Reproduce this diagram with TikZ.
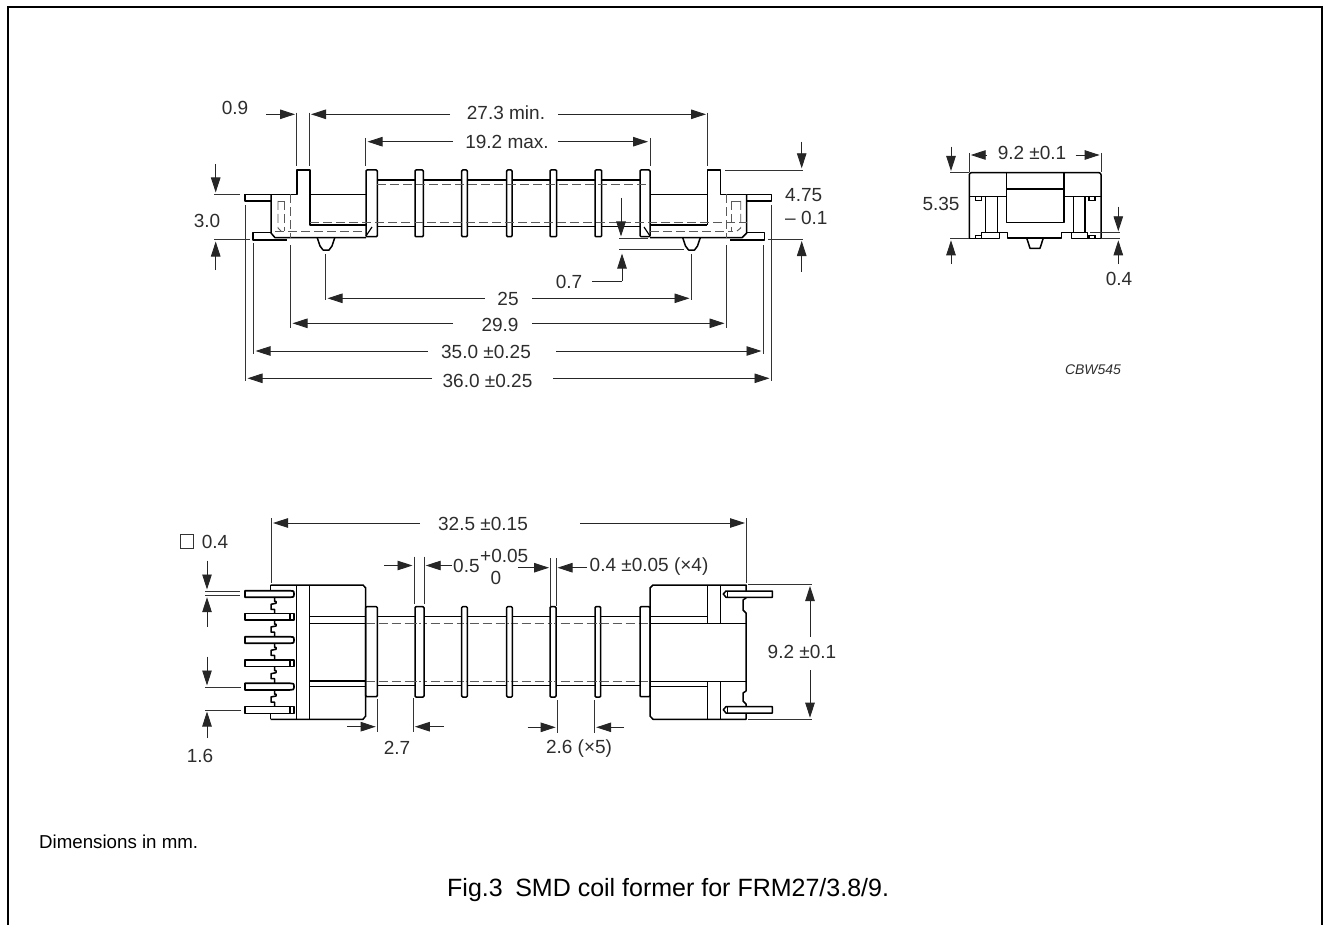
\documentclass[tikz,border=0pt]{standalone}
\usepackage{fontspec}
\setmainfont{Liberation Sans}
\usetikzlibrary{arrows.meta}
\definecolor{labelgray}{RGB}{45,45,45}
\definecolor{hiddengray}{RGB}{90,90,90}
\tikzset{
  outline/.style={line width=1.5pt,line join=round},
  thinline/.style={line width=1.2pt},
  extline/.style={line width=0.9pt,black!80},
  hidden/.style={line width=0.9pt,hiddengray,dash pattern=on 9pt off 4pt},
  dimarrow/.style={line width=0.9pt,black!85,-{Triangle[length=15pt,width=9.5pt]}},
  dimtail/.style={line width=0.9pt,black!85},
  dimlabel/.style={font=\fontsize{19}{22}\selectfont,text=labelgray,inner sep=0pt},
}
\begin{document}
\begin{tikzpicture}[x=1pt,y=-1pt]
    \useasboundingbox (0,0) rectangle (1329,925);
    % Frame, open at the bottom
    \draw[line width=2pt] (8.3,925) -- (8.3,7.5) -- (1321.5,7.5) -- (1321.5,925);

    % Side view: moulded body
    \draw[outline] (245,194.3) -- (297,194.3) -- (297,170) -- (310,170) -- (310,225) -- (366,225);
    \draw[outline] (310,194.3) -- (366,194.3);
    \draw[outline] (245,194.3) -- (245,201) -- (271,201);
    \draw[outline] (271,194.3) -- (271,233) -- (275,237.7) -- (366,237.7);
    \draw[outline] (271,232.7) -- (253,232.7) -- (253,240) -- (287,240);
    \draw[outline] (707.3,225) -- (707.3,170) -- (720.7,170) -- (720.7,194.3) -- (771.7,194.3) -- (771.7,201) -- (746.7,201);
    \draw[outline] (650,194.3) -- (707.3,194.3);
    \draw[outline] (650,225) -- (707.3,225);
    \draw[outline] (746.7,194.3) -- (746.7,233) -- (742,237.7) -- (650,237.7);
    \draw[outline] (746.7,232.7) -- (764.3,232.7) -- (764.3,240) -- (730,240);
    % Side view: feet
    \foreach \footx in {326,691.5} {
        \draw[outline] (\footx-8.7,238) -- (\footx-6,246) -- (\footx-3,250) -- (\footx+3,250) -- (\footx+6,246) -- (\footx+8.7,238);
    }
    % Side view: tube and flanges
    \draw[outline] (377.3,180) -- (640,180);
    \draw[outline] (377.3,226.7) -- (640,226.7);
    \draw[outline,rounded corners=1pt] (366,170) rectangle (377.3,236.7);
    \draw[outline,rounded corners=1pt] (640,170) rectangle (650,236.7);
    \draw[thinline] (366,236) -- (372,227);
    \draw[thinline] (644,227) -- (650,236);
    \foreach \flangeL/\flangeR in {415/423.3,461.7/467.3,506.7/512,550/556.7,595/601.7} {
        \draw[outline,fill=white,rounded corners=1pt] (\flangeL,170) rectangle (\flangeR,236.7);
    }
    % Side view: hidden lines
    \draw[hidden] (377.3,184.7) -- (650,184.7);
    \draw[hidden] (310,222) -- (746.7,222);
    \draw[hidden] (275,231) -- (366,231);
    \draw[hidden] (650,231) -- (733,231);
    \draw[hidden] (278,201) -- (278,228) -- (281,231);
    \draw[hidden] (284,201) -- (284,231);
    \draw[hidden] (278,201) -- (284,201);
    \draw[hidden] (290.3,194.3) -- (290.3,238);
    \draw[hidden] (731.7,201) -- (731.7,231);
    \draw[hidden] (740.7,201) -- (740.7,228) -- (737,231);
    \draw[hidden] (731.7,201) -- (740.7,201);
    \draw[hidden] (726.7,194.3) -- (726.7,238);

    % Side view: widths above
    \draw[extline] (296.7,112.7) -- (296.7,166);
    \draw[extline] (309.3,112.7) -- (309.3,166);
    \draw[extline] (365.7,138) -- (365.7,166);
    \draw[extline] (650,138) -- (650,166);
    \draw[extline] (707.7,112.7) -- (707.7,166);
    \node[dimlabel] (wallwidth) at (235,108) {0.9};
    \draw[dimarrow] (266,114.3) -- (295,114.3);
    \draw[dimarrow] (450,114.3) -- (311,114.3);
    \node[dimlabel] (innerwidth) at (506,113) {27.3 min.};
    \draw[dimarrow] (558,114.3) -- (706,114.3);
    \draw[dimarrow] (453,141.7) -- (367.5,141.7);
    \node[dimlabel] (tubewidth) at (507,142) {19.2 max.};
    \draw[dimarrow] (558,141.7) -- (648,141.7);

    % Side view: heights
    \draw[extline] (214,194.3) -- (240,194.3);
    \draw[extline] (214,239.7) -- (250,239.7);
    \draw[dimarrow] (215.7,164) -- (215.7,192.5);
    \draw[dimarrow] (215.7,270) -- (215.7,241.5);
    \node[dimlabel] (pinheight) at (207,221) {3.0};
    \draw[extline] (725,170) -- (803,170);
    \draw[extline] (768,239.3) -- (803,239.3);
    \draw[dimarrow] (801.7,141.7) -- (801.7,168.3);
    \draw[dimarrow] (801.7,271.7) -- (801.7,241);
    \node[dimlabel,anchor=west] (totalheight) at (785,195) {4.75};
    \node[dimlabel,anchor=west] (totaltol) at (785,218) {– 0.1};
    \draw[extline] (619,238) -- (648,238);
    \draw[extline] (619,249) -- (684,249);
    \draw[dimarrow] (621,198) -- (621,236.5);
    \node[dimlabel] (footheight) at (569,281.5) {0.7};
    \draw[dimtail] (592,281) -- (622,281);
    \draw[dimarrow] (622,281) -- (622,253.5);

    % Side view: lengths below
    \draw[extline] (245.3,205) -- (245.3,381);
    \draw[extline] (253.3,243) -- (253.3,354);
    \draw[extline] (290.3,245) -- (290.3,328);
    \draw[extline] (325.3,254) -- (325.3,300);
    \draw[extline] (691.7,254) -- (691.7,300);
    \draw[extline] (726.7,245) -- (726.7,328);
    \draw[extline] (763.7,245) -- (763.7,354);
    \draw[extline] (771.7,205) -- (771.7,381);
    \node[dimlabel] (footpitch) at (508,299) {25};
    \draw[dimarrow] (485,298.3) -- (327.5,298.3);
    \draw[dimarrow] (532,298.3) -- (689.5,298.3);
    \node[dimlabel] (legpitch) at (500,324.5) {29.9};
    \draw[dimarrow] (453,323.3) -- (292.5,323.3);
    \draw[dimarrow] (532,323.3) -- (724.5,323.3);
    \node[dimlabel] (padlength) at (486,351.5) {35.0 ±0.25};
    \draw[dimarrow] (427.7,351) -- (255.5,351);
    \draw[dimarrow] (556,351) -- (761.5,351);
    \node[dimlabel] (pinlength) at (487.5,381) {36.0 ±0.25};
    \draw[dimarrow] (432,378.3) -- (247.5,378.3);
    \draw[dimarrow] (553,378.3) -- (769.5,378.3);

    % End view
    \draw[outline,rounded corners=2pt] (969.3,238.7) -- (969.3,172.7) -- (1101,172.7) -- (1101,238.7);
    \draw[outline] (1006.7,172.7) -- (1006.7,222.7) -- (1064,222.7) -- (1064,172.7);
    \draw[outline] (1006.7,189) -- (1064,189);
    \draw[outline] (969.3,196.7) -- (1006.7,196.7);
    \draw[outline] (1064,196.7) -- (1101,196.7);
    \draw[outline] (985.3,197) -- (985.3,232.7);
    \draw[outline] (997.3,197) -- (997.3,232.7);
    \draw[outline] (1073.3,197) -- (1073.3,232.7);
    \draw[outline] (1085,197) -- (1085,232.7);
    \foreach \padL/\padR in {975.7/981.7,1089/1095} {
        \draw[thinline] (\padL,196.7) rectangle (\padR,200.5);
        \draw[thinline] (\padL,235.3) rectangle (\padR,238.7);
    }
    \draw[outline] (969.3,238.7) -- (981.7,238.7) -- (981.7,232.7) -- (999.3,232.7) -- (1007.7,232.7) -- (1007.7,238) -- (1061.7,238) -- (1061.7,232.7) -- (1087.7,232.7) -- (1087.7,238.7) -- (1101,238.7);
    \draw[outline] (981.7,238.7) -- (999.3,238.7) -- (999.3,232.7);
    \draw[outline] (1071.3,232.7) -- (1071.3,238.7) -- (1087.7,238.7);
    \draw[outline] (1026.7,238) -- (1030,248.3) -- (1040,248.3) -- (1043.3,238);
    \draw[extline] (969.3,153) -- (969.3,172);
    \draw[extline] (1101,153) -- (1101,172);
    \draw[dimarrow] (987,155) -- (970.7,155);
    \draw[dimarrow] (1075.7,155) -- (1099.6,155);
    \node[dimlabel] (endwidth) at (1032,153) {9.2 ±0.1};
    \draw[extline] (950,172.7) -- (969,172.7);
    \draw[extline] (950,238.7) -- (969,238.7);
    \draw[dimarrow] (951,146.7) -- (951,171);
    \draw[dimarrow] (951,264) -- (951,240.3);
    \node[dimlabel] (endheight) at (941,204) {5.35};
    \draw[extline] (1090,232.7) -- (1120,232.7);
    \draw[extline] (1101,238.7) -- (1120,238.7);
    \draw[dimarrow] (1118.3,206.7) -- (1118.3,231.3);
    \draw[dimarrow] (1118.3,264) -- (1118.3,240.3);
    \node[dimlabel] (padheight) at (1119,279) {0.4};
    \node[font=\fontsize{14}{16}\selectfont\itshape,text=labelgray,inner sep=0pt] (drawingcode) at (1093,370) {CBW545};

    % Top view: left body
    \draw[outline] (270.7,585) -- (363,585) -- (365.7,588) -- (365.7,716) -- (363,719.3) -- (270.7,719.3);
    \draw[outline] (296.7,585) -- (296.7,719.3);
    \draw[outline] (309.3,585) -- (309.3,719.3);
    \draw[outline] (270.7,585) -- (270.7,590.7);
    \draw[outline] (270.7,713.3) -- (270.7,719.3);
    \foreach \pintop/\pincap in {590.7/1,613.3/0,636.7/1,660/0,683.3/1,706.7/0} {
        \ifnum\pincap=1
            \draw[outline,line width=1.7pt] (294,\pintop+3.3) .. controls (294,\pintop) and (293,\pintop) .. (290,\pintop) -- (245,\pintop) -- (245,\pintop+6.6) -- (290,\pintop+6.6) .. controls (293,\pintop+6.6) and (294,\pintop+6.6) .. (294,\pintop+3.3);
        \else
            \draw[outline] (245,\pintop) rectangle (294,\pintop+6.6);
            \draw[thinline] (290,\pintop) -- (290,\pintop+6.6);
        \fi
    }
    % Top view: comb between the pins
    \foreach \gaptop in {597.3,620,643.3,666.7,690} {
        \draw[outline] (274.5,\gaptop) -- (274.5,\gaptop+4) -- (276,\gaptop+4) -- (276,\gaptop+6) -- (271,\gaptop+7) -- (271,\gaptop+12) -- (274.5,\gaptop+12) -- (274.5,\gaptop+16.4);
    }
    % Top view: tube and flanges
    \draw[outline] (309.3,616.7) -- (366,616.7);
    \draw[thinline] (309.3,623.3) -- (366,623.3);
    \draw[outline] (309.3,681) -- (366,681);
    \draw[thinline] (309.3,686.7) -- (366,686.7);
    \draw[outline] (377.3,616.7) -- (640,616.7);
    \draw[outline] (377.3,685.7) -- (640,685.7);
    \draw[hidden] (365.7,623) -- (650,623);
    \draw[hidden] (365.7,681) -- (650,681);
    \draw[outline,rounded corners=1pt] (365.7,606.7) rectangle (377.3,696.7);
    \draw[outline,rounded corners=1pt] (640,606.7) rectangle (650,696.7);
    \foreach \flangeL/\flangeR in {415/424,461.7/467.3,506.7/512.3,550/556,595/600.7} {
        \draw[outline,fill=white,rounded corners=1pt] (\flangeL,606.7) rectangle (\flangeR,697);
        \draw[hidden,dash pattern=on 2pt off 2pt] (\flangeL,623) -- (\flangeR,623);
        \draw[hidden,dash pattern=on 2pt off 2pt] (\flangeL,681) -- (\flangeR,681);
    }
    % Top view: right body
    \draw[outline] (650,588) -- (653,585) -- (746,585) -- (746,598) -- (743,600) -- (743,610) -- (746,613) -- (746,681) -- (746,691) -- (743,693) -- (743,701) -- (746,704) -- (746,719.3) -- (653,719.3) -- (650,716) -- cycle;
    \draw[outline] (650,616.7) -- (707.7,616.7);
    \draw[outline] (650,623.3) -- (746,623.3);
    \draw[outline] (650,681.3) -- (746,681.3);
    \draw[outline] (650,686.7) -- (707.7,686.7);
    \draw[outline] (707.7,585) -- (707.7,623.3);
    \draw[outline] (720.7,585) -- (720.7,623.3);
    \draw[outline] (707.7,681.3) -- (707.7,719.3);
    \draw[outline] (720.7,681.3) -- (720.7,719.3);
    \foreach \pintop in {591,706.7} {
        \draw[outline,fill=white] (772.3,\pintop) -- (726,\pintop) -- (723.3,\pintop+3) -- (726,\pintop+6.3) -- (772.3,\pintop+6.3) -- cycle;
        \draw[thinline] (727.5,\pintop) -- (727.5,\pintop+6.3);
    }

    % Top view: overall length
    \draw[extline] (271,518) -- (271,583);
    \draw[extline] (746.5,518) -- (746.5,583);
    \node[dimlabel] (bodylength) at (483,523.5) {32.5 ±0.15};
    \draw[dimarrow] (420,523) -- (273,523);
    \draw[dimarrow] (580,523) -- (745,523);

    % Top view: flange thickness
    \draw[extline] (414.3,556.7) -- (414.3,604);
    \draw[extline] (424,556.7) -- (424,604);
    \draw[dimarrow] (384,565.5) -- (412.5,565.5);
    \draw[dimarrow] (452,565.5) -- (425.7,565.5);
    \node[dimlabel,anchor=west] (slotwidth) at (453,566) {0.5};
    \node[dimlabel,anchor=west] (slotupper) at (480,556) {+0.05};
    \node[dimlabel] (slotlower) at (496,577.5) {0};
    \draw[extline] (550.7,558) -- (550.7,606);
    \draw[extline] (556,558) -- (556,606);
    \draw[dimarrow] (518,567.7) -- (549,567.7);
    \draw[dimarrow] (587,567.7) -- (557.5,567.7);
    \node[dimlabel,anchor=west] (wallthick) at (589.5,566.5) {0.4 ±0.05 (×4)};

    % Top view: width and pin dimensions
    \draw[extline] (748,584.3) -- (812,584.3);
    \draw[extline] (748,719.3) -- (812,719.3);
    \draw[dimarrow] (810,636.7) -- (810,586);
    \draw[dimarrow] (810,670) -- (810,717.7);
    \node[dimlabel] (bodywidth) at (802,651.5) {9.2 ±0.1};
    \node[draw,line width=0.8pt,black!80,minimum size=13.5pt,inner sep=0pt] (squaremark) at (186.8,541.5) {};
    \node[dimlabel] (pinsection) at (215,541.5) {0.4};
    \draw[extline] (205,591) -- (240,591);
    \draw[extline] (205,595.7) -- (240,595.7);
    \draw[dimarrow] (207,560.7) -- (207,589.5);
    \draw[dimarrow] (207,626.7) -- (207,597.2);
    \draw[extline] (205,687) -- (241,687);
    \draw[extline] (205,710) -- (241,710);
    \draw[dimarrow] (207,656.7) -- (207,685.5);
    \draw[dimarrow] (207,738) -- (207,711.5);
    \node[dimlabel] (pinpitch) at (200,755.5) {1.6};

    % Top view: dimensions below
    \draw[extline] (377.3,699) -- (377.3,732);
    \draw[extline] (413.3,698) -- (413.3,732);
    \draw[dimarrow] (347,726.7) -- (375.7,726.7);
    \draw[dimarrow] (444,726.7) -- (414.8,726.7);
    \node[dimlabel] (firstgap) at (397,747.5) {2.7};
    \draw[extline] (557.3,700) -- (557.3,733);
    \draw[extline] (594.7,700) -- (594.7,733);
    \draw[dimarrow] (527.7,727.3) -- (555.7,727.3);
    \draw[dimarrow] (624,727.3) -- (596.2,727.3);
    \node[dimlabel] (othergaps) at (579,748.5) {2.6 (×5)};

    % Notes
    \node[font=\fontsize{18.7}{21}\selectfont,anchor=west,inner sep=0pt] (unitnote) at (39,841.5) {Dimensions in mm.};
    \node[font=\fontsize{25}{29}\selectfont,anchor=west,inner sep=0pt] (caption) at (447,890.5) {Fig.3\hspace{0.5em}SMD coil former for FRM27/3.8/9.};
\end{tikzpicture}
\end{document}
